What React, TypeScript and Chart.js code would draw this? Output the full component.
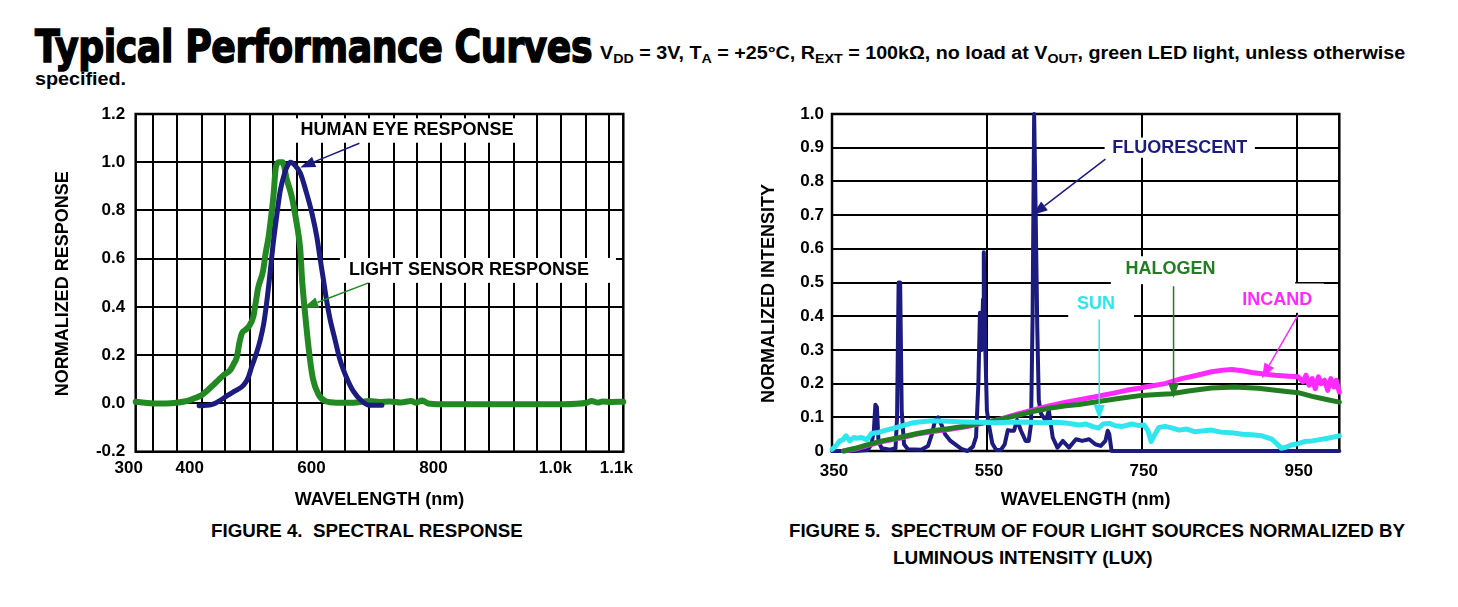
import React, { useEffect, useLayoutEffect, useRef } from 'react';
import { Chart, registerables } from 'chart.js';

Chart.register(...registerables);

// ---------------- Figure 4 : spectral response ----------------
const eyeWavelength = [404, 416, 427, 438, 449, 463, 477, 485, 490, 497, 504, 510, 515, 520, 525, 531, 537, 545, 550, 554, 562, 570, 580, 589, 597, 602, 608, 613, 619, 627, 635, 645, 657, 671, 684, 704];
const eyeResponse = [-0.01, -0.008, -0.003, 0.012, 0.03, 0.052, 0.076, 0.11, 0.15, 0.2, 0.26, 0.33, 0.42, 0.53, 0.65, 0.77, 0.88, 0.96, 0.99, 1.0, 0.985, 0.955, 0.875, 0.79, 0.693, 0.61, 0.513, 0.43, 0.348, 0.265, 0.182, 0.113, 0.051, 0.01, -0.007, -0.007];

const sensorWavelength = [300, 315, 329, 350, 367, 380, 389, 400, 408, 418, 427, 436, 444, 455, 461, 466, 470, 474, 480, 485, 493, 497, 501, 509, 513, 518, 522, 526, 530, 535, 541, 548, 556, 564, 570, 573, 577, 581, 586, 591, 600, 611, 630, 657, 684, 700, 717, 735, 752, 760, 770, 780, 800, 850, 900, 950, 1000, 1040, 1048, 1058, 1066, 1080, 1100];
const sensorResponse = [0.007, 0.003, 0.0, 0.0, 0.003, 0.008, 0.014, 0.025, 0.034, 0.055, 0.076, 0.098, 0.117, 0.138, 0.165, 0.193, 0.25, 0.29, 0.305, 0.317, 0.36, 0.42, 0.48, 0.55, 0.62, 0.69, 0.77, 0.86, 0.98, 1.0, 1.0, 0.928, 0.858, 0.748, 0.638, 0.513, 0.396, 0.293, 0.182, 0.1, 0.037, 0.01, 0.003, 0.003, 0.01, 0.006, 0.008, 0.004, 0.01, 0.003, 0.012, 0.0, -0.003, -0.003, -0.003, -0.003, -0.003, 0.003, 0.01, 0.004, 0.008, 0.006, 0.007];

const fig4XTickValues = [300, 400, 600, 800, 1000, 1100];
const fig4XTickLabels = ['300', '400', '600', '800', '1.0k', '1.1k'];
const fig4XGridLines = [329, 368, 408, 447, 487, 526, 565, 605, 644, 683, 723, 762, 801, 841, 880, 920, 959, 998, 1038, 1077];
const fig4YTickValues = [-0.2, 0, 0.2, 0.4, 0.6, 0.8, 1.0, 1.2];
const fig4YTickLabels = ['-0.2', '0.0', '0.2', '0.4', '0.6', '0.8', '1.0', '1.2'];

// ---------------- Figure 5 : four light sources ----------------
const fluorWavelength = [350, 380, 396, 401, 404, 406, 408, 410, 414, 425, 432, 434, 436, 438, 440, 443, 448, 465, 474, 479, 483, 487, 491, 496, 503, 510, 517, 525, 532, 536, 539, 541, 543, 545, 546, 548, 550, 553, 557, 562, 568, 573, 577, 581, 585, 589, 594, 600, 604, 607, 609, 611, 613, 615, 617, 620, 626, 630, 635, 641, 648, 656, 665, 673, 682, 690, 697, 703, 706, 708, 711, 740, 1005];
const fluorIntensity = [0, 0, 0.003, 0.02, 0.06, 0.137, 0.13, 0.03, 0.008, 0.004, 0.008, 0.1, 0.5, 0.5, 0.12, 0.02, 0.005, 0.004, 0.015, 0.05, 0.09, 0.1, 0.08, 0.05, 0.03, 0.018, 0.006, 0.0, 0.013, 0.042, 0.2, 0.41, 0.3, 0.45, 0.59, 0.3, 0.12, 0.072, 0.022, 0.003, 0.003, 0.02, 0.062, 0.06, 0.06, 0.092, 0.06, 0.03, 0.03, 0.08, 0.4, 1.0, 0.7, 0.37, 0.15, 0.11, 0.09, 0.12, 0.04, 0.01, 0.03, 0.01, 0.035, 0.03, 0.035, 0.02, 0.015, 0.03, 0.06, 0.05, 0.0, 0, 0];

const sunWavelength = [350, 355, 360, 364, 368, 373, 378, 382, 388, 395, 401, 410, 420, 430, 437, 446, 455, 465, 480, 500, 520, 540, 560, 580, 600, 620, 640, 652, 669, 678, 686, 694, 700, 708, 716, 725, 737, 745, 753, 758, 762, 767, 772, 780, 790, 798, 808, 819, 830, 840, 852, 866, 880, 892, 905, 918, 925, 930, 937, 943, 952, 960, 970, 978, 990, 1005];
const sunIntensity = [0.005, 0.015, 0.03, 0.033, 0.045, 0.03, 0.04, 0.038, 0.04, 0.033, 0.052, 0.055, 0.062, 0.068, 0.072, 0.078, 0.084, 0.087, 0.09, 0.088, 0.086, 0.085, 0.084, 0.085, 0.086, 0.084, 0.085, 0.083, 0.077, 0.08, 0.073, 0.068, 0.08, 0.082, 0.075, 0.073, 0.08, 0.076, 0.077, 0.06, 0.028, 0.05, 0.07, 0.073, 0.068, 0.062, 0.065, 0.057, 0.06, 0.062, 0.056, 0.054, 0.05, 0.048, 0.045, 0.035, 0.02, 0.008, 0.012, 0.018, 0.022, 0.028, 0.03, 0.033, 0.038, 0.045];

const halogenWavelength = [365, 380, 395, 415, 437, 460, 480, 500, 523, 545, 566, 590, 609, 630, 652, 669, 694, 720, 750, 770, 788, 810, 840, 870, 900, 934, 952, 970, 990, 1005];
const halogenIntensity = [0, 0.008, 0.018, 0.03, 0.04, 0.052, 0.06, 0.066, 0.074, 0.084, 0.093, 0.106, 0.117, 0.127, 0.134, 0.138, 0.147, 0.156, 0.165, 0.168, 0.17, 0.178, 0.187, 0.19, 0.186, 0.177, 0.173, 0.162, 0.152, 0.145];

const incandWavelength = [365, 380, 395, 415, 437, 460, 480, 500, 523, 545, 566, 590, 610, 630, 652, 680, 695, 712, 730, 746, 754, 780, 800, 820, 840, 855, 866, 880, 892, 905, 922, 940, 952, 958, 962, 966, 970, 974, 978, 982, 986, 990, 994, 998, 1001, 1005];
const incandIntensity = [0, 0.006, 0.016, 0.028, 0.038, 0.05, 0.058, 0.064, 0.072, 0.083, 0.094, 0.11, 0.122, 0.134, 0.145, 0.157, 0.163, 0.171, 0.18, 0.186, 0.19, 0.2, 0.214, 0.224, 0.235, 0.24, 0.242, 0.238, 0.233, 0.229, 0.225, 0.222, 0.22, 0.205, 0.225, 0.195, 0.215, 0.185, 0.22, 0.2, 0.21, 0.18, 0.215, 0.19, 0.21, 0.175];

const fig5XTickValues = [350, 550, 750, 950];
const fig5XTickLabels = ['350', '550', '750', '950'];
const fig5YTickValues = [0, 0.1, 0.2, 0.3, 0.4, 0.5, 0.6, 0.7, 0.8, 0.9, 1.0];
const fig5YTickLabels = ['0', '0.1', '0.2', '0.3', '0.4', '0.5', '0.6', '0.7', '0.8', '0.9', '1.0'];

// ---------------- styling ----------------
const FONT = "'Liberation Sans', Arial, Helvetica, sans-serif";
const NAVY = '#1b1b80';
const GREEN = '#238a23';
const GREEN2 = '#237d23';
const CYAN = '#2fe6ef';
const MAGENTA = '#ff2aff';

Chart.defaults.font.family = FONT;
Chart.defaults.font.weight = 'bold';
Chart.defaults.color = '#000';

const pts = (xs: number[], ys: number[]) => xs.map((x, i) => ({ x, y: ys[i] }));

function drawArrow(ctx: CanvasRenderingContext2D, x0: number, y0: number, x1: number, y1: number, color: string) {
  const ang = Math.atan2(y1 - y0, x1 - x0);
  const L = 15, W = 5.5;
  const bx = x1 - L * Math.cos(ang), by = y1 - L * Math.sin(ang);
  ctx.strokeStyle = color;
  ctx.fillStyle = color;
  ctx.lineWidth = 1.5;
  ctx.beginPath();
  ctx.moveTo(x0, y0);
  ctx.lineTo(bx, by);
  ctx.stroke();
  ctx.beginPath();
  ctx.moveTo(x1, y1);
  ctx.lineTo(bx + W * Math.sin(ang), by - W * Math.cos(ang));
  ctx.lineTo(bx - W * Math.sin(ang), by + W * Math.cos(ang));
  ctx.closePath();
  ctx.fill();
}

const figurePlugin = {
  id: 'figure',
  beforeDatasetsDraw(chart: any, _a: any, opts: any) {
    const { ctx, chartArea: a, scales } = chart;
    const xs = scales.x, ys = scales.y;
    ctx.save();
    ctx.fillStyle = '#fff';
    for (const n of opts.notes || []) {
      if (!n.box) continue;
      const [x0, y0, x1, y1] = n.box;
      const px0 = xs.getPixelForValue(x0), px1 = xs.getPixelForValue(x1);
      const py0 = ys.getPixelForValue(y1), py1 = ys.getPixelForValue(y0);
      ctx.fillRect(px0, py0, px1 - px0, py1 - py0);
    }
    ctx.strokeStyle = '#000';
    ctx.lineWidth = 2.5;
    ctx.strokeRect(a.left, a.top, a.right - a.left, a.bottom - a.top);
    ctx.restore();
  },
  afterDatasetsDraw(chart: any, _a: any, opts: any) {
    const { ctx, chartArea: a, scales } = chart;
    const xs = scales.x, ys = scales.y;
    ctx.save();
    ctx.font = `bold 18px ${FONT}`;
    ctx.textAlign = 'center';
    ctx.textBaseline = 'middle';
    for (const n of opts.notes || []) {
      ctx.fillStyle = n.color;
      ctx.fillText(n.text, xs.getPixelForValue(n.at[0]), ys.getPixelForValue(n.at[1]));
      if (n.arrow) {
        const [[ax0, ay0], [ax1, ay1]] = n.arrow;
        drawArrow(ctx, xs.getPixelForValue(ax0), ys.getPixelForValue(ay0), xs.getPixelForValue(ax1), ys.getPixelForValue(ay1), n.arrowColor || n.color);
      }
    }
    if (opts.yTitle) {
      const t = opts.yTitle;
      ctx.translate(a.left - t.offsetX, (a.top + a.bottom) / 2 + t.offsetY);
      ctx.rotate(-Math.PI / 2);
      ctx.fillStyle = '#000';
      ctx.fillText(t.text, 0, 0);
    }
    ctx.restore();
  },
};

function lineSet(label: string, xs: number[], ys: number[], color: string, width: number, smooth: boolean) {
  return {
    label,
    data: pts(xs, ys),
    borderColor: color,
    backgroundColor: color,
    borderWidth: width,
    pointRadius: 0,
    fill: false,
    clip: false,
    borderJoinStyle: 'round',
    borderCapStyle: 'round',
    ...(smooth ? { cubicInterpolationMode: 'monotone' } : { tension: 0 }),
  };
}

const fixY = (w: number) => (s: any) => { s.width = w; s.paddingTop = 0; s.paddingBottom = 0; };
const fixX = (h: number) => (s: any) => { s.height = h; s.paddingLeft = 0; s.paddingRight = 0; };

const fig4AllXTicks = [...fig4XTickValues, ...fig4XGridLines].sort((p, q) => p - q);

function fig4Config(): any {
  return {
    type: 'line',
    data: {
      datasets: [
        lineSet('Human eye response', eyeWavelength, eyeResponse, NAVY, 5, true),
        lineSet('Light sensor response', sensorWavelength, sensorResponse, GREEN, 6, true),
      ],
    },
    plugins: [figurePlugin],
    options: {
      responsive: false,
      animation: false,
      events: [],
      layout: { padding: { left: 0, top: 14, right: 36.7, bottom: 0 } },
      plugins: {
        legend: { display: false },
        tooltip: { enabled: false },
        figure: {
          notes: [
            { text: 'HUMAN EYE RESPONSE', color: '#000', at: [745, 1.134], box: [558, 1.081, 931, 1.182], arrow: [[667, 1.079], [570, 0.978]], arrowColor: NAVY },
            { text: 'LIGHT SENSOR RESPONSE', color: '#000', at: [847, 0.555], box: [635, 0.5, 1088, 0.603], arrow: [[682, 0.5], [575, 0.396]], arrowColor: GREEN },
          ],
          yTitle: { text: 'NORMALIZED RESPONSE', offsetX: 72.7, offsetY: 1 },
        },
      },
      scales: {
        x: {
          type: 'linear',
          min: 300,
          max: 1100,
          afterBuildTicks: (s: any) => { s.ticks = fig4AllXTicks.map((v) => ({ value: v })); },
          afterFit: fixX(68.3),
          grid: {
            color: (c: any) => (c.tick && fig4XGridLines.includes(c.tick.value) ? '#000' : 'rgba(0,0,0,0)'),
            lineWidth: 2,
            drawTicks: false,
          },
          border: { display: false },
          ticks: {
            autoSkip: false,
            maxRotation: 0,
            padding: 6.4,
            labelOffset: -7,
            font: { size: 17, weight: 'bold' },
            callback: (v: number) => {
              const i = fig4XTickValues.indexOf(v);
              return i >= 0 ? fig4XTickLabels[i] : '';
            },
          },
          title: { display: true, text: 'WAVELENGTH (nm)', font: { size: 18, weight: 'bold' }, padding: { top: 0, bottom: 9.5 } },
        },
        y: {
          type: 'linear',
          min: -0.2,
          max: 1.2,
          afterBuildTicks: (s: any) => { s.ticks = fig4YTickValues.map((v) => ({ value: v })); },
          afterFit: fixY(95.7),
          grid: { color: '#000', lineWidth: 2, drawTicks: false },
          border: { display: false },
          ticks: {
            autoSkip: false,
            padding: 10.5,
            font: { size: 17, weight: 'bold' },
            callback: (_v: number, i: number) => fig4YTickLabels[i],
          },
        },
      },
    },
  };
}

function fig5Config(): any {
  return {
    type: 'line',
    data: {
      datasets: [
        lineSet('Sun', sunWavelength, sunIntensity, CYAN, 5, false),
        lineSet('Halogen', halogenWavelength, halogenIntensity, GREEN2, 5, false),
        lineSet('Incandescent', incandWavelength, incandIntensity, MAGENTA, 5, false),
        lineSet('Fluorescent', fluorWavelength, fluorIntensity, NAVY, 4, false),
      ],
    },
    plugins: [figurePlugin],
    options: {
      responsive: false,
      animation: false,
      events: [],
      layout: { padding: { left: 0, top: 14, right: 40.7, bottom: 0 } },
      plugins: {
        legend: { display: false },
        tooltip: { enabled: false },
        figure: {
          notes: [
            { text: 'FLUORESCENT', color: NAVY, at: [799, 0.899], box: [702, 0.87, 896, 0.93], arrow: [[703, 0.866], [609, 0.7]] },
            { text: 'HALOGEN', color: GREEN2, at: [787, 0.539], box: [710, 0.495, 948, 0.578], arrow: [[791, 0.489], [791, 0.157]] },
            { text: 'SUN', color: CYAN, at: [691, 0.4375], box: [655, 0.397, 740, 0.47], arrow: [[695, 0.39], [695, 0.092]] },
            { text: 'INCAND', color: MAGENTA, at: [925, 0.447], box: [866, 0.41, 985, 0.497], arrow: [[952, 0.405], [905, 0.216]] },
          ],
          yTitle: { text: 'NORMALIZED INTENSITY', offsetX: 63.2, offsetY: 11 },
        },
      },
      scales: {
        x: {
          type: 'linear',
          min: 350,
          max: 1005,
          afterBuildTicks: (s: any) => { s.ticks = fig5XTickValues.map((v) => ({ value: v })); },
          afterFit: fixX(69),
          grid: { color: '#000', lineWidth: 2, drawTicks: false },
          border: { display: false },
          ticks: {
            autoSkip: false,
            maxRotation: 0,
            padding: 10,
            labelOffset: 2,
            font: { size: 17, weight: 'bold' },
            callback: (_v: number, i: number) => fig5XTickLabels[i],
          },
          title: { display: true, text: 'WAVELENGTH (nm)', font: { size: 18, weight: 'bold' }, padding: { top: 0, bottom: 9.5 } },
        },
        y: {
          type: 'linear',
          min: 0,
          max: 1,
          afterBuildTicks: (s: any) => { s.ticks = fig5YTickValues.map((v) => ({ value: v })); },
          afterFit: fixY(92),
          grid: { color: '#000', lineWidth: 2, drawTicks: false },
          border: { display: false },
          ticks: {
            autoSkip: false,
            padding: 8,
            font: { size: 17, weight: 'bold' },
            callback: (_v: number, i: number) => fig5YTickLabels[i],
          },
        },
      },
    },
  };
}

function ChartCanvas({ makeConfig, left, top, width, height }: { makeConfig: () => any; left: number; top: number; width: number; height: number }) {
  const ref = useRef<HTMLCanvasElement>(null);
  useEffect(() => {
    const chart = new Chart(ref.current as HTMLCanvasElement, makeConfig());
    return () => chart.destroy();
  }, []);
  return <canvas ref={ref} width={width} height={height} style={{ position: 'absolute', left, top, width, height }} />;
}

function FitText({ left, top, width, style, children }: { left: number; top: number; width: number; style: React.CSSProperties; children: React.ReactNode }) {
  const ref = useRef<HTMLSpanElement>(null);
  useLayoutEffect(() => {
    const fit = () => {
      const el = ref.current;
      if (!el) return;
      el.style.transform = 'none';
      const w = el.offsetWidth;
      if (w > 0) el.style.transform = `scaleX(${width / w})`;
    };
    fit();
    const fonts = (document as any).fonts;
    if (fonts && fonts.ready) fonts.ready.then(fit);
  });
  return (
    <span ref={ref} style={{ position: 'absolute', left, top, whiteSpace: 'pre', display: 'inline-block', transformOrigin: '0 0', color: '#000', ...style }}>
      {children}
    </span>
  );
}

const sub: React.CSSProperties = { fontSize: 13, position: 'relative', top: 4 };
const textStyle: React.CSSProperties = { fontFamily: FONT, fontWeight: 700, fontSize: 18, lineHeight: '18px' };
const titleStyle: React.CSSProperties = {
  fontFamily: "'DejaVu Sans', 'Liberation Sans', sans-serif",
  fontWeight: 700,
  fontSize: 44,
  lineHeight: '44px',
  WebkitTextStroke: '1.6px #000',
  letterSpacing: '-0.5px',
};

export default function App() {
  return (
    <div style={{ position: 'absolute', left: 0, top: 0, width: 1458, height: 607, background: '#fff', overflow: 'hidden' }}>
      <FitText left={35} top={25} width={557} style={titleStyle}>
        Typical Performance Curves
      </FitText>
      <FitText left={600} top={44} width={805} style={textStyle}>
        V<span style={sub}>DD</span> = 3V, T<span style={sub}>A</span> = +25°C, R<span style={sub}>EXT</span> = 100kΩ, no load at V<span style={sub}>OUT</span>, green LED light, unless otherwise
      </FitText>
      <FitText left={35} top={70} width={91} style={textStyle}>
        specified.
      </FitText>

      <ChartCanvas makeConfig={fig4Config} left={40} top={100} width={620} height={420} />
      <ChartCanvas makeConfig={fig5Config} left={740} top={100} width={640} height={420} />

      <FitText left={211} top={522} width={312} style={textStyle}>
        {'FIGURE 4.  SPECTRAL RESPONSE'}
      </FitText>
      <FitText left={789} top={522} width={616} style={textStyle}>
        {'FIGURE 5.  SPECTRUM OF FOUR LIGHT SOURCES NORMALIZED BY'}
      </FitText>
      <FitText left={893} top={549} width={260} style={textStyle}>
        {'LUMINOUS INTENSITY (LUX)'}
      </FitText>
    </div>
  );
}
